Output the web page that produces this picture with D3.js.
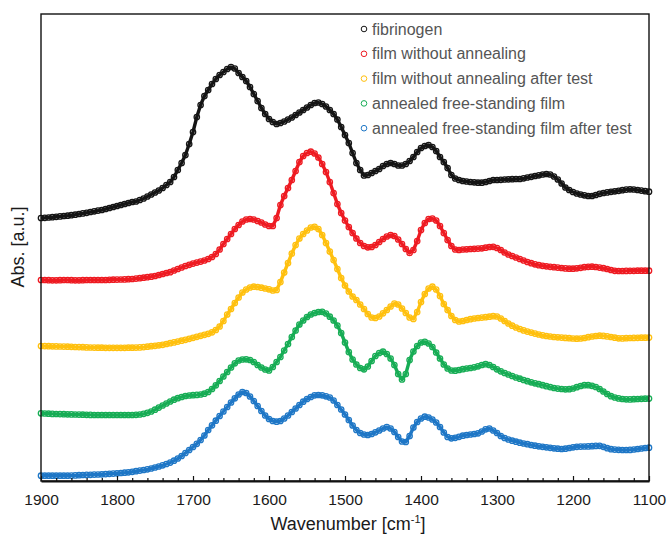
<!DOCTYPE html>
<html>
<head>
<meta charset="utf-8">
<script src="https://cdn.jsdelivr.net/npm/d3@7"></script>
<style>
  body { margin: 0; background: #fff; }
  svg { display: block; }
  text { font-family: "Liberation Sans", Arial, sans-serif; }
</style>
</head>
<body>
<svg id="chart" width="670" height="536"></svg>
<script>
// FTIR spectra, amide region, stacked with vertical offsets (arbitrary units)
const seriesNames = [
  "fibrinogen",
  "film without annealing",
  "film without annealing after test",
  "annealed free-standing film",
  "annealed free-standing film after test"
];
const seriesColors = ["#151515", "#ee1b22", "#ffc00f", "#17ad55", "#1f77c6"];

// sampling grid: 1900 → 1100 cm-1, every 5 cm-1
const wavenumbers = d3.range(1900, 1099, -5);

const fibrinogen = [
  263, 263.2, 263.5, 263.8, 264.2, 264.6, 265, 265.3, 265.8, 266.3,
  267, 267.6, 268.2, 269, 269.7, 270.4, 271, 272, 273, 274,
  275, 276, 277, 278, 279, 279.5, 281, 282.5, 284.5, 286.5,
  288.5, 290.5, 293, 296, 299, 304, 311, 318, 326, 337,
  349, 364, 376, 385, 391, 397, 402, 406, 409, 412,
  414, 412.5, 408, 404, 400, 394, 387, 380, 373, 367,
  362, 359, 357, 358, 359.5, 361.5, 363.5, 366, 368.5, 371,
  373.5, 376, 378, 378.5, 377, 374.5, 371, 367, 361.5, 354,
  346, 338, 328, 318, 311, 305.5, 306, 308, 310, 312,
  315, 317, 318, 317, 315.5, 315.5, 317, 320, 324, 329,
  333, 335, 336, 334, 330, 324, 319, 313, 306, 302.5,
  301, 300, 299.5, 299, 298.7, 298.3, 298.3, 299, 300, 301,
  301, 301.2, 301.5, 301.7, 301.8, 302, 302, 302.7, 303.5, 304.2,
  305, 305.7, 306.5, 307, 306.5, 304.5, 301.5, 297.5, 293.5, 291,
  289, 287.5, 286.5, 285.7, 285, 285, 286, 287.2, 288, 288.6,
  289.2, 289.7, 290.2, 290.8, 291.4, 291.7, 291.5, 291, 290.4, 289.8,
  289.3
];

const filmNoAnneal = [
  201, 201, 200.8, 200.7, 200.7, 200.8, 201, 201, 200.8, 200.7,
  200.7, 200.8, 201, 201, 201, 201, 201, 201, 201.2, 201.3,
  201.4, 201.5, 201.6, 201.8, 202, 202.4, 202.8, 203.3, 203.8, 204.3,
  205, 206, 207, 208, 208.8, 210.5, 212, 213.5, 215, 216.2,
  217.4, 218.4, 219.4, 220.5, 222, 224, 227, 231.5, 237, 242,
  247, 252, 256, 259.5, 261.5, 262, 261.5, 260, 258.5, 256.5,
  255, 255, 263, 276, 285, 293, 301, 310, 319, 325,
  328, 329.3, 327.5, 323.5, 317, 309, 299, 288, 277, 268,
  260.5, 254, 248, 242.5, 238, 235, 233.7, 234, 236, 239,
  242, 244.5, 246, 245, 241.5, 237, 232, 228, 231, 240,
  251, 258, 262, 262.5, 260.5, 255, 248, 241, 235, 231.5,
  231, 231.5, 231.7, 232, 232.2, 232.4, 232.7, 233.3, 234, 234.2,
  233, 231, 228.5, 226.5, 225, 223.5, 222, 220.5, 219, 217.8,
  216.7, 215.8, 215.2, 214.7, 214.2, 213.8, 213.4, 213, 212.6, 212.3,
  212.3, 212.7, 213.2, 213.8, 214.2, 214.3, 214, 213.4, 212.8, 212,
  211, 210.2, 210, 210, 210.1, 210.2, 210.2, 210.3, 210.3, 210.3,
  210.3
];

const filmNoAnnealTested = [
  135, 134.9, 134.8, 134.7, 134.6, 134.5, 134.4, 134.3, 134.2, 134,
  133.9, 133.8, 133.6, 133.5, 133.4, 133.3, 133.3, 133.2, 133.2, 133.2,
  133.2, 133.2, 133.2, 133.3, 133.3, 133.4, 133.6, 133.9, 134.3, 134.8,
  135.2, 135.7, 136.2, 137, 137.8, 138.6, 139.4, 140.3, 141.2, 142.2,
  143.2, 144.2, 145.2, 146.2, 147.2, 148.7, 151, 154.5, 160, 166.5,
  172, 178, 183.5, 188.5, 191.5, 193.5, 194.3, 194, 193.3, 192.5,
  191.7, 190.5, 191, 199, 208.5, 218, 227.5, 236, 242.5, 247,
  250.5, 253.5, 254.2, 252, 246, 238, 229.5, 221, 212, 203,
  195.5, 189.5, 184.5, 181, 176.5, 172, 167, 163.5, 163, 164.5,
  167.7, 171, 174.5, 177.5, 176.5, 172.5, 168, 163.5, 162, 169,
  179, 187, 192.5, 194.3, 191.5, 185, 177, 171, 165, 161,
  159.5, 160, 161, 161.8, 162.5, 163, 163.4, 163.8, 164.3, 164.8,
  164.5, 162.5, 160, 157.5, 155.3, 153.5, 152, 150.6, 149.4, 148.4,
  147.4, 146.5, 145.7, 145, 144.5, 144, 143.7, 143.4, 143.1, 142.8,
  142.5, 142.3, 142.5, 143, 143.8, 144.5, 145, 145.3, 145.1, 144.6,
  144, 143.3, 142.7, 142.6, 142.8, 143, 143.1, 143.2, 143.3, 143.3,
  143.4
];

const annealedFilm = [
  67.7, 67.5, 67.3, 67.1, 67, 66.9, 66.8, 66.7, 66.6, 66.5,
  66.4, 66.3, 66.2, 66.1, 66, 66, 66, 66, 66, 66,
  66, 66, 66, 66, 66, 66.2, 66.5, 67.2, 68.2, 69.5,
  71.3, 73.4, 75.5, 77.5, 79.5, 81.3, 82.8, 84, 85, 85.5,
  85.8, 86.1, 86.5, 87.3, 89, 92, 95.7, 100, 104.5, 109,
  113.5, 117.7, 120.5, 121.5, 121.7, 121, 119, 116, 113.5, 111.5,
  110.5, 114, 119, 124, 130.5, 137, 144, 150.5, 156.5, 160.5,
  164, 166.5, 168, 169, 169.2, 167.5, 164.3, 160.5, 155.5, 148,
  138.5, 129, 121.5, 116.5, 113, 111.7, 114.5, 120, 125, 128,
  129.3, 127, 122.5, 116, 107, 101.5, 107, 121, 129.5, 135,
  138.5, 139.2, 137.5, 134, 128.5, 122.5, 116.5, 112.5, 110.5, 110.3,
  111, 111.8, 112.5, 113, 113.7, 114.7, 116, 116.8, 116, 114,
  111.7, 109.7, 108, 106.5, 105, 103.5, 102.3, 101, 99.8, 98.7,
  97.7, 96.8, 95.8, 94.8, 93.9, 93, 92.4, 92, 91.7, 91.8,
  92.5, 93.8, 95, 95.8, 95.8, 95.2, 94, 92, 89.5, 87,
  84.8, 83.5, 82.6, 82, 81.7, 81.6, 81.8, 82, 82.2, 82.3,
  82.4
];

const annealedFilmTested = [
  5.3, 5.3, 5.3, 5.3, 5.3, 5.3, 5.3, 5.3, 5.4, 5.6,
  5.8, 6, 6.1, 6.2, 6.4, 6.5, 6.7, 6.9, 7.2, 7.4,
  7.7, 8, 8.3, 8.7, 9.2, 9.8, 10.4, 11, 11.7, 12.5,
  13.5, 14.5, 15.7, 17, 18.4, 20.3, 22.5, 25, 28, 31,
  34, 37.2, 41, 45.5, 51, 55.7, 60.3, 65, 69.5, 74,
  78.5, 82.7, 86.5, 89, 88, 84.5, 80, 75, 70, 65.5,
  62, 60, 59.3, 60, 62.5, 65.5, 69, 72.5, 76, 79.3,
  82, 84, 85.7, 86, 85.7, 84.7, 83.5, 80.5, 76, 71.5,
  66.5, 61, 55.5, 51, 48, 46.5, 46, 47, 48.7, 50.5,
  52.5, 54, 52.5, 49, 44, 39.5, 39, 45, 53.5, 59,
  62.5, 64.3, 63.5, 61.5, 58.5, 54, 48.5, 44, 42.7, 43.2,
  44.2, 45.3, 46, 46.5, 47, 47.7, 49.5, 51.7, 52.5, 50.5,
  48, 45, 43, 41.5, 40.3, 39.3, 38.3, 37.5, 36.8, 36,
  35.3, 34.7, 34.2, 33.7, 33.2, 32.7, 32.3, 32, 32.3, 33,
  33.7, 34.2, 34.4, 34.5, 34.6, 34.8, 35.1, 35.2, 34.2, 32.8,
  31.8, 31.4, 31.2, 31, 31, 31.1, 31.5, 32, 32.5, 33,
  33.3
];

const xMajorTicks = [1900, 1800, 1700, 1600, 1500, 1400, 1300, 1200, 1100];
const xMinorTicks = d3.range(1900, 1099, -20);

const allSeries = [fibrinogen, filmNoAnneal, filmNoAnnealTested, annealedFilm, annealedFilmTested];

// ---- layout ----
const plot = { left: 41, right: 649, top: 14, bottom: 481 };
const svg = d3.select("#chart");

const x = d3.scaleLinear().domain([1900, 1100]).range([plot.left, plot.right]);
const y = d3.scaleLinear().domain([0, 467]).range([plot.bottom, plot.top]);

// spectra: a trace under a dense chain of open circle markers
const line = d3.line()
  .x((d, i) => x(wavenumbers[i]))
  .y(d => y(d));

allSeries.forEach((vals, s) => {
  const g = svg.append("g").attr("class", "series");
  g.append("path")
    .datum(vals)
    .attr("d", line)
    .attr("fill", "none")
    .attr("stroke", seriesColors[s])
    .attr("stroke-width", 3.4)
    .attr("stroke-linejoin", "round");
  g.selectAll("circle")
    .data(vals)
    .join("circle")
    .attr("cx", (d, i) => x(wavenumbers[i]))
    .attr("cy", d => y(d))
    .attr("r", 2.7)
    .attr("fill", "none")
    .attr("stroke", seriesColors[s])
    .attr("stroke-width", 1.3);
});

// frame
svg.append("rect")
  .attr("x", plot.left).attr("y", plot.top)
  .attr("width", plot.right - plot.left).attr("height", plot.bottom - plot.top)
  .attr("fill", "none").attr("stroke", "#111").attr("stroke-width", 1.4);

// x axis: major ticks with labels, minor ticks every 20 cm-1, all pointing inward
const xAxisMajor = d3.axisBottom(x)
  .tickValues(xMajorTicks)
  .tickFormat(d3.format("d"))
  .tickSizeInner(-5).tickSizeOuter(0).tickPadding(13);
const gx = svg.append("g")
  .attr("transform", `translate(0,${plot.bottom})`)
  .call(xAxisMajor);
gx.select(".domain").attr("stroke", "#111").attr("stroke-width", 2);
gx.selectAll(".tick line").attr("stroke", "#111").attr("stroke-width", 1.2);
gx.selectAll(".tick text")
  .attr("fill", "#1a1a1a")
  .style("font-size", "15.5px");

const xAxisMinor = d3.axisBottom(x)
  .tickValues(xMinorTicks.filter(v => v % 100 !== 0))
  .tickFormat("")
  .tickSizeInner(-3).tickSizeOuter(0);
const gxm = svg.append("g")
  .attr("transform", `translate(0,${plot.bottom})`)
  .call(xAxisMinor);
gxm.select(".domain").remove();
gxm.selectAll(".tick line").attr("stroke", "#111").attr("stroke-width", 1.2);

// axis titles
const xTitle = svg.append("text")
  .attr("x", 348).attr("y", 530)
  .attr("text-anchor", "middle")
  .attr("fill", "#1a1a1a")
  .style("font-size", "18px");
xTitle.append("tspan").text("Wavenumber [cm");
xTitle.append("tspan").attr("dy", -7).style("font-size", "11px").text("-1");
xTitle.append("tspan").attr("dy", 7).text("]");

svg.append("text")
  .attr("transform", "translate(24,247) rotate(-90)")
  .attr("text-anchor", "middle")
  .attr("fill", "#1a1a1a")
  .style("font-size", "18px")
  .text("Abs. [a.u.]");

// legend
const legend = svg.append("g");
seriesNames.forEach((name, i) => {
  const ly = 29 + i * 24.8;
  legend.append("circle")
    .attr("cx", 364).attr("cy", ly).attr("r", 2.8)
    .attr("fill", "none").attr("stroke", seriesColors[i]).attr("stroke-width", 1);
  legend.append("text")
    .attr("x", 372).attr("y", ly).attr("dy", "0.35em")
    .attr("fill", "#555")
    .style("font-size", "16px")
    .text(name);
});
</script>
</body>
</html>
